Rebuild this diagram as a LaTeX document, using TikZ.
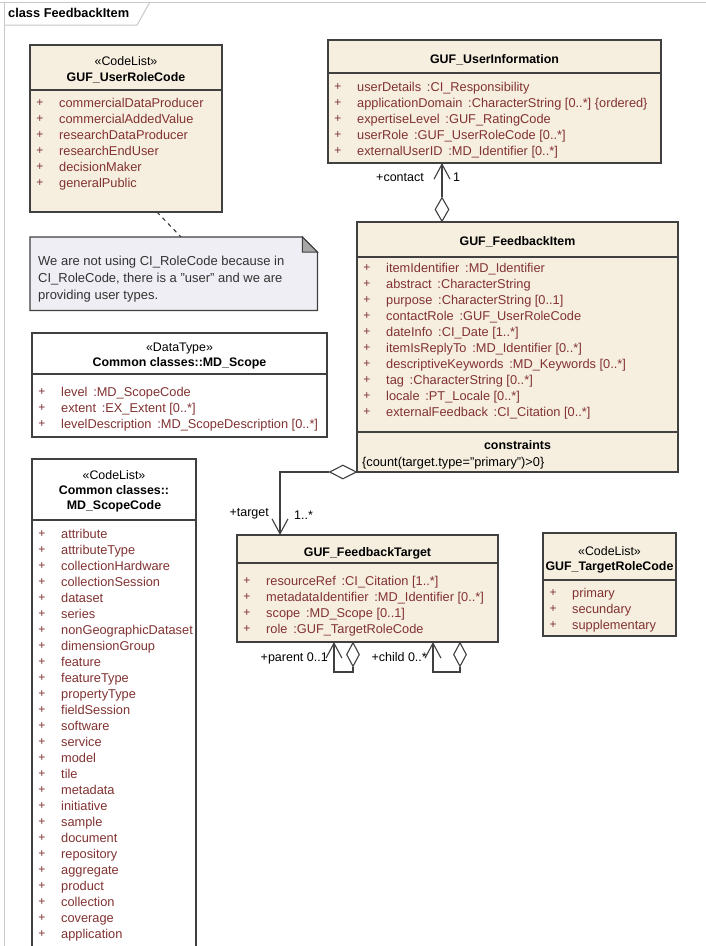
\documentclass[tikz,border=0pt]{standalone}
\usepackage{fontspec}
\setmainfont{Liberation Sans}
\usetikzlibrary{arrows.meta,shapes.geometric,calc}
\definecolor{beige}{RGB}{246,239,224}
\definecolor{bord}{RGB}{64,64,64}
\definecolor{itemc}{RGB}{130,50,50}
\definecolor{notefill}{RGB}{238,238,244}
\definecolor{frameg}{RGB}{200,200,200}
\newcommand\tsp{\hskip0.45em\relax}
\newcommand\itemrows[4]{%
  \foreach \txt [count=\i] in {#4} {%
    \node[plussign] (#1p\i) at ({#2+10},{#3+16*(\i-1)}) {+};
    \node[itemtext] (#1\i) at ({#2+29},{#3+16*(\i-1)+4.5}) {\txt};
  }}
\newcommand\clsbox[7]{%
  \node[cbox,fill=#7,minimum width={#4pt-#2pt},minimum height={#5pt-#3pt}] (#1) at (#2,#3) {};
  \draw[cline] (#2,#6) -- (#4,#6);}
\begin{document}
\begin{tikzpicture}[x=1pt,y=-1pt,
  cbox/.style={draw=bord,line width=1.2pt,anchor=north west,inner sep=0pt,outer sep=0pt},
  cline/.style={draw=bord,line width=1.2pt},
  plussign/.style={text=itemc,font=\fontsize{12}{12}\selectfont,inner sep=0pt},
  itemtext/.style={text=itemc,font=\fontsize{12.8}{15}\selectfont,inner sep=0pt,anchor=base west},
  ctitle/.style={font=\bfseries\fontsize{12.4}{14}\selectfont,inner sep=0pt,anchor=base},
  stereo/.style={font=\fontsize{12.4}{14}\selectfont,inner sep=0pt,anchor=base},
  lbl/.style={font=\fontsize{12.5}{14}\selectfont,inner sep=0pt},
  frameline/.style={draw=frameg,line width=1pt},
  conn/.style={draw=bord,line width=1.1pt},
  assoc/.style={conn,-{Straight Barb[length=15pt,width=16pt]}},
  diam/.style={shape=diamond,draw=bord,fill=white,line width=1.1pt,inner sep=0pt}]
\useasboundingbox (0,0) rectangle (706,946);
\clip (0,0) rectangle (706,946);
\fill[white] (0,0) rectangle (706,946);

% frame
\draw[frameline] (0,2) -- (706,2);
\draw[frameline] (4,2) -- (4,946);
\draw[frameline] (4,25) -- (137,25) -- (150,2);
\node[ctitle,anchor=base west,font=\bfseries\fontsize{12.8}{14}\selectfont] (frametitle) at (8,17.5) {class FeedbackItem};

% boxes
\clsbox{urc}{30}{45}{222}{212}{90}{beige}
\clsbox{ui}{328}{40}{661}{163}{73}{beige}
\clsbox{fi}{357}{222}{678}{472}{257}{beige}
\draw[cline] (357,432) -- (678,432);
\clsbox{ft}{237}{535}{498}{642}{563}{beige}
\clsbox{trc}{543}{533}{676}{636}{580}{beige}
\clsbox{mds}{32}{333}{327}{437}{374}{white}
\clsbox{msc}{32}{459}{196}{970}{520}{white}

% headers
\node[stereo] (urcs) at (126,65.5) {«CodeList»};
\node[ctitle] (urct) at (126,81.5) {GUF\_UserRoleCode};
\node[ctitle] (uit) at (494.5,63.5) {GUF\_UserInformation};
\node[ctitle] (fit) at (517.5,245.5) {GUF\_FeedbackItem};
\node[ctitle] (ftt) at (367.5,556.5) {GUF\_FeedbackTarget};
\node[stereo] (trcs) at (609.5,555.5) {«CodeList»};
\node[ctitle] (trct) at (609.5,570.5) {GUF\_TargetRoleCode};
\node[stereo] (mdss) at (179.5,351.5) {«DataType»};
\node[ctitle] (mdst) at (179.5,366.5) {Common classes::MD\_Scope};
\node[stereo] (mscs) at (114,479.5) {«CodeList»};
\node[ctitle] (msct1) at (114,494.5) {Common classes::};
\node[ctitle] (msct2) at (114,509.5) {MD\_ScopeCode};
\node[ctitle] (fic) at (517.5,449.5) {constraints};
\node[lbl,anchor=base west,font=\fontsize{12.8}{14}\selectfont] (ficc) at (362,466.5) {\{count(target.type="primary")>0\}};

% attributes
\itemrows{urci}{30}{103}{commercialDataProducer,commercialAddedValue,researchDataProducer,researchEndUser,decisionMaker,generalPublic}
\itemrows{uii}{328}{87}{{userDetails\tsp:CI\_Responsibility},{applicationDomain\tsp:CharacterString [0..*] \{ordered\}},{expertiseLevel\tsp:GUF\_RatingCode},{userRole\tsp:GUF\_UserRoleCode [0..*]},{externalUserID\tsp:MD\_Identifier [0..*]}}
\itemrows{fii}{357}{268}{{itemIdentifier\tsp:MD\_Identifier},{abstract\tsp:CharacterString},{purpose\tsp:CharacterString [0..1]},{contactRole\tsp:GUF\_UserRoleCode},{dateInfo\tsp:CI\_Date [1..*]},{itemIsReplyTo\tsp:MD\_Identifier [0..*]},{descriptiveKeywords\tsp:MD\_Keywords [0..*]},{tag\tsp:CharacterString [0..*]},{locale\tsp:PT\_Locale [0..*]},{externalFeedback\tsp:CI\_Citation [0..*]}}
\itemrows{fti}{237}{581}{{resourceRef\tsp:CI\_Citation [1..*]},{metadataIdentifier\tsp:MD\_Identifier [0..*]},{scope\tsp:MD\_Scope [0..1]},{role\tsp:GUF\_TargetRoleCode}}
\itemrows{trci}{543}{593}{primary,secundary,supplementary}
\itemrows{mdsi}{32}{392}{{level\tsp:MD\_ScopeCode},{extent\tsp:EX\_Extent [0..*]},{levelDescription\tsp:MD\_ScopeDescription [0..*]}}
\itemrows{msci}{32}{534}{attribute,attributeType,collectionHardware,collectionSession,dataset,series,nonGeographicDataset,dimensionGroup,feature,featureType,propertyType,fieldSession,software,service,model,tile,metadata,initiative,sample,document,repository,aggregate,product,collection,coverage,application}

% note
\node[minimum width=287pt,minimum height=73pt,anchor=north west,inner sep=0pt] (note) at (30,237) {};
\draw[draw=bord,line width=1.2pt,fill=notefill] (note.north west) -- ($(note.north east)+(-15,0)$) -- ($(note.north east)+(0,15)$) -- (note.south east) -- (note.south west) -- cycle;
\filldraw[draw=bord,line width=1pt,fill=black!35] ($(note.north east)+(-15,0)$) -- ($(note.north east)+(0,15)$) -- ($(note.north east)+(-15,15)$) -- cycle;
\node[lbl,anchor=base west,text=black!80,font=\fontsize{13}{15}\selectfont] (n1) at (38,265.5) {We are not using CI\_RoleCode because in};
\node[lbl,anchor=base west,text=black!80,font=\fontsize{13}{15}\selectfont] (n2) at (38,282.5) {CI\_RoleCode, there is a "user" and we are};
\node[lbl,anchor=base west,text=black!80,font=\fontsize{13}{15}\selectfont] (n3) at (38,299.5) {providing user types.};
\draw[conn,dash pattern=on 4pt off 4pt] ($(urc.south west)+(127,0)$) -- ($(note.north west)+(151,0)$);

% contact association
\node[diam,minimum width=14pt,minimum height=24pt,anchor=south] (d1) at (442,222) {};
\draw[assoc] (d1.north) -- (ui.south -| d1.north);
\node[lbl,anchor=base east] (lcontact) at (424,181.5) {+contact};
\node[lbl,anchor=base west] (lone) at (453,181.5) {1};

% target association
\node[diam,minimum width=27pt,minimum height=14pt,anchor=east] (d2) at (fi.south west) {};
\coordinate (tgt) at (280,535);
\draw[assoc] (d2.west) -| (tgt);
\node[lbl,anchor=base east] (ltarget) at (269,516.5) {+target};
\node[lbl,anchor=base west] (lmult) at (294,519.5) {1..*};

% parent self-association
\node[diam,minimum width=13pt,minimum height=24pt,anchor=north] (d3) at (353,642) {};
\coordinate (pa) at (334,642);
\coordinate (pb) at (334,672);
\draw[assoc] (d3.south) |- (pb) -- (pa);
\node[lbl,anchor=base east] (lparent) at (328,661.5) {+parent 0..1};

% child self-association
\node[diam,minimum width=13pt,minimum height=24pt,anchor=north] (d4) at (460,642) {};
\coordinate (ca) at (433,642);
\coordinate (cb) at (433,672);
\draw[assoc] (d4.south) |- (cb) -- (ca);
\node[lbl,anchor=base east] (lchild) at (427,661.5) {+child 0..*};
\end{tikzpicture}
\end{document}
